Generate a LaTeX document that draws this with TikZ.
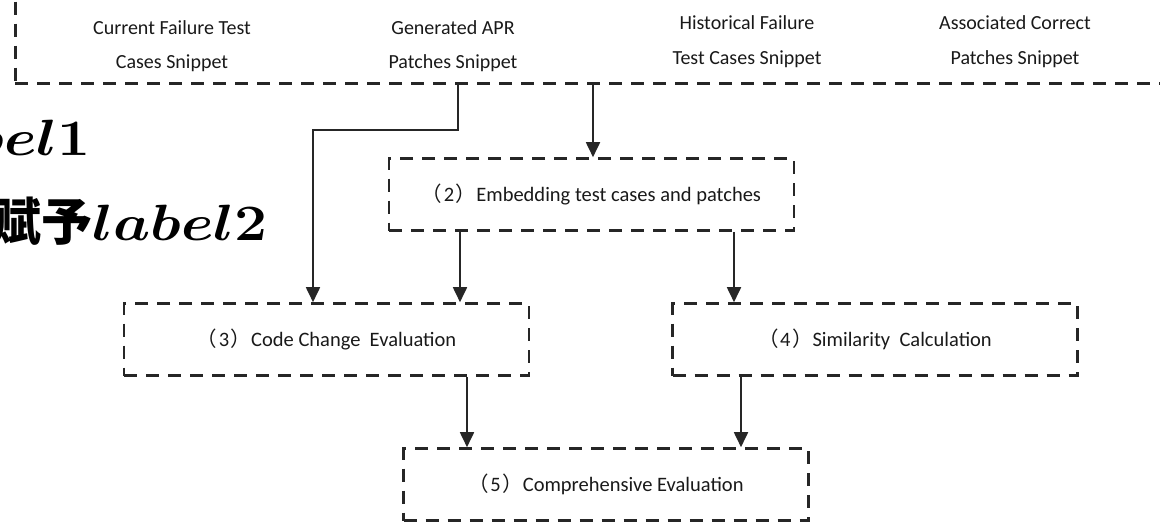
\documentclass[tikz,border=0pt]{standalone}
\usepackage{fix-cm}
\usepackage{bm}
\usepackage{fontspec}
\setmainfont{Carlito}
\newfontfamily\cjk{Noto Sans CJK SC}
\usetikzlibrary{arrows.meta}
% full-width brackets around the step numbers
\newcommand\fwl{{\cjk （}\kern1.5pt}
\newcommand\fwr{\kern1.5pt{\cjk ）}}

\begin{document}
\begin{tikzpicture}[x=1pt,y=-1pt,
  dashbox/.style={draw=black!85, line width=2.6pt, dash pattern=on 13pt off 9pt,
    minimum width=405pt, minimum height=72pt, inner sep=0pt,
    font=\fontsize{20.5}{24}\selectfont, text=black!90},
  flow/.style={draw=black!85, line width=1.8pt, -{Triangle[width=14pt,length=15pt]}},
  toplab/.style={anchor=base, inner sep=0pt, font=\fontsize{20}{24}\selectfont, text=black!90},
  biglab/.style={anchor=base east, inner sep=0pt, font=\fontsize{51}{60}\selectfont, text=black}]

\useasboundingbox (0,0) rectangle (1160,523);
\clip (0,0) rectangle (1160,523);

% input snippets frame (runs past the top and right edges)
\node[dashbox, anchor=south west, minimum width=1200pt, minimum height=150pt] (inputs) at (14,85) {};
\coordinate (tapA) at ([xshift=444]inputs.south west);
\coordinate (tapB) at ([xshift=579]inputs.south west);

\node[toplab] (cur1) at (172,34) {Current Failure Test};
\node[toplab] (cur2) at (172,68) {Cases Snippet};
\node[toplab] (gen1) at (453,34) {Generated APR};
\node[toplab] (gen2) at (453,68) {Patches Snippet};
\node[toplab] (his1) at (747,29) {Historical Failure};
\node[toplab] (his2) at (747,64) {Test Cases Snippet};
\node[toplab] (ass1) at (1015,29) {Associated Correct};
\node[toplab] (ass2) at (1015,64) {Patches Snippet};

% large labels at the left margin
\node[biglab] (lab1) at (91,155) {\scalebox{1.15}[1]{$\bm{label1}$}};
\node[biglab] (lab2) at (268,240) {{\cjk\bfseries 赋予}\scalebox{1.15}[1]{$\bm{label2}$}};

% processing steps
\node[dashbox] (b2) at (591.5,194.5) {\fwl 2\fwr Embedding test cases and patches};
\node[dashbox] (b3) at (326.5,339.5) {\fwl 3\fwr Code Change\ \ Evaluation};
\node[dashbox] (b4) at (875,339.5) {\fwl 4\fwr Similarity\ \ Calculation};
\node[dashbox] (b5) at (606,484.5) {\fwl 5\fwr Comprehensive Evaluation};

% connectors
\draw[flow] (tapB) -- (tapB |- b2.north);
\draw[flow] (tapA) -- ++(0,45) -| ([xshift=-13.5]b3.north);
\draw[flow] ([xshift=-131.5]b2.south) -- ([xshift=-131.5]b2.south |- b3.north);
\draw[flow] ([xshift=142.5]b2.south) -- ([xshift=142.5]b2.south |- b4.north);
\draw[flow] ([xshift=140.5]b3.south) -- ([xshift=140.5]b3.south |- b5.north);
\draw[flow] ([xshift=-134]b4.south) -- ([xshift=-134]b4.south |- b5.north);
\end{tikzpicture}
\end{document}
